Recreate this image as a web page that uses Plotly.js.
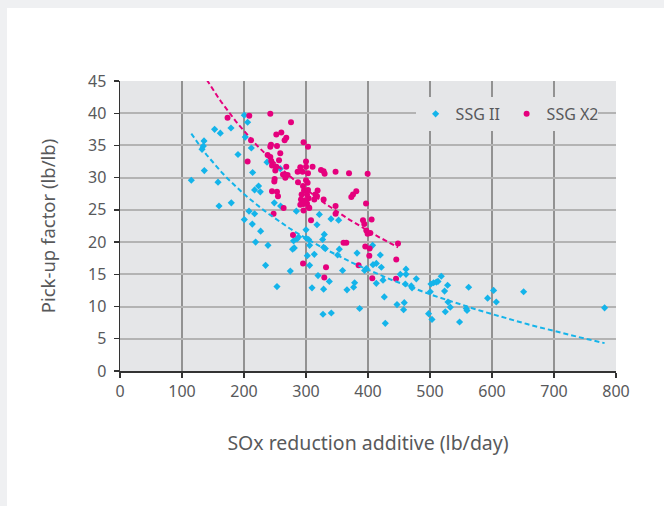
<!DOCTYPE html>
<html>
<head>
<meta charset="utf-8">
<script src="https://cdn.plot.ly/plotly-3.0.1.min.js"></script>
<style>
  html, body { margin: 0; padding: 0; background: #eff0f2; width: 664px; height: 506px; overflow: hidden; }
  #chart { position: absolute; left: 7px; top: 8px; width: 657px; height: 498px; background: #ffffff; }
</style>
</head>
<body>
<div id="chart"></div>
<script>
// ---- Data ----
const ssg2X = [200.5,205.8,152.6,161.8,179.0,202.1,135.5,134.4,132.3,211.8,190.3,237.1,258.5,136.0,213.9,115.0,158.1,223.5,217.1,226.3,
  179.5,159.7,248.9,259.0,208.1,217.1,284.4,321.5,317.7,340.3,352.6,300.0,200.5,213.4,226.8,218.7,238.7,288.1,285.5,300.5,
  304.2,280.0,305.8,281.1,278.4,302.1,305.8,234.8,274.7,253.2,329.5,326.8,313.4,328.4,331.1,353.7,351.0,382.3,407.4,419.8,
  408.1,413.4,421.5,394.5,397.3,359.0,319.4,337.6,378.4,376.8,309.7,328.4,366.1,424.2,413.4,452.1,461.3,461.3,477.9,460.2,
  469.8,471.0,501.6,505.8,510.2,512.9,518.2,528.4,523.5,500.5,562.3,426.3,386.5,327.4,340.8,446.8,458.5,457.4,497.7,503.2,
  529.0,532.7,524.7,547.7,558.5,559.7,427.9,592.9,602.6,606.9,651.0,781.6];
const ssg2Y = [39.7,38.6,37.5,36.9,37.7,36.3,35.7,34.9,34.4,34.6,33.6,32.4,31.4,31.1,30.8,29.6,29.3,28.7,28.1,27.8,
  26.1,25.6,26.1,25.6,24.8,24.4,24.8,24.3,22.7,23.6,23.4,21.9,23.5,22.8,21.7,20.0,19.5,20.8,20.5,20.6,
  20.4,20.2,19.5,19.1,18.9,17.9,16.4,16.4,15.5,13.1,21.2,20.4,18.1,19.2,19.0,18.9,18.0,18.3,19.5,18.0,
  16.5,16.7,16.1,15.6,15.9,15.6,14.8,13.9,13.7,13.0,12.9,12.7,12.6,14.1,13.6,15.0,15.8,15.0,14.3,13.5,
  13.2,12.9,13.5,13.7,13.8,13.9,14.7,13.3,12.4,12.3,13.0,11.5,9.7,8.8,9.0,10.3,10.6,9.5,8.9,8.0,
  10.7,9.9,9.2,7.6,9.7,9.4,7.4,11.3,12.5,10.7,12.3,9.8];

const ssgx2X = [173.5,208.5,242.4,275.8,252.1,260.2,268.2,265.5,211.3,243.5,242.4,253.2,258.5,238.1,242.4,205.8,244.0,245.2,256.5,252.1,
  250.5,268.2,262.9,270.3,249.4,248.9,245.2,253.2,266.6,254.8,263.9,247.7,296.1,303.2,300.0,290.8,300.0,310.6,286.5,294.5,
  303.2,324.2,328.4,330.0,347.7,369.4,399.4,300.0,302.6,287.1,295.2,296.8,303.2,318.7,292.9,301.6,304.2,315.0,317.7,313.4,
  328.4,291.9,298.9,301.6,304.2,375.8,381.1,373.1,290.8,296.1,305.3,296.1,396.8,347.7,347.7,308.1,391.9,394.0,405.8,279.0,
  295.2,360.6,365.0,395.6,402.6,402.1,384.8,332.3,329.5,406.9,445.2,445.6,448.4,397.3,399.4,403.7];
const ssgx2Y = [39.3,39.6,39.9,38.6,36.7,37.0,36.2,35.8,35.8,35.1,34.8,34.9,33.8,33.5,33.2,32.5,32.6,31.9,32.7,31.7,
  31.1,31.7,30.5,30.4,29.8,29.4,27.9,27.8,30.0,27.1,25.3,24.4,35.5,34.8,32.5,31.6,31.7,31.7,30.9,30.9,
  30.7,31.2,31.0,30.6,30.9,30.7,30.6,29.6,29.2,29.3,28.7,28.0,28.1,28.0,27.4,27.4,26.8,27.4,27.1,26.6,
  26.6,26.6,26.5,26.0,25.4,27.4,27.9,27.0,25.8,25.9,25.3,24.9,26.0,25.6,24.4,23.4,23.4,22.8,23.5,21.1,
  16.7,19.9,19.9,19.3,19.0,17.9,16.4,16.1,14.5,14.4,14.3,17.3,19.8,21.8,21.3,21.4];

const seriesNames = ["SSG II", "SSG X2"];
const xTickVals = [0,100,200,300,400,500,600,700,800];
const yTickVals = [0,5,10,15,20,25,30,35,40,45];
const pinkTrendStart = 140;   // trend line is extended back past the first point and clipped at the top

// ---- Logarithmic least-squares trend (y = a + b ln x) computed from the data ----
function logFit(xs, ys) {
  const n = xs.length;
  let sl = 0, sy = 0, sll = 0, sly = 0;
  for (let i = 0; i < n; i++) {
    const l = Math.log(xs[i]);
    sl += l; sy += ys[i]; sll += l * l; sly += l * ys[i];
  }
  const b = (n * sly - sl * sy) / (n * sll - sl * sl);
  const a = (sy - b * sl) / n;
  return {a, b};
}
function trendCurve(fit, x0, x1) {
  const xs = [], ys = [];
  const steps = 80;
  for (let i = 0; i <= steps; i++) {
    const x = x0 + (x1 - x0) * i / steps;
    xs.push(x); ys.push(fit.a + fit.b * Math.log(x));
  }
  return {xs, ys};
}
const fitBlue = logFit(ssg2X, ssg2Y);
const fitPink = logFit(ssgx2X, ssgx2Y);
const tBlue = trendCurve(fitBlue, Math.min(...ssg2X), Math.max(...ssg2X));
const tPink = trendCurve(fitPink, pinkTrendStart, Math.max(...ssgx2X));

const blue = "#14b4ea";
const pink = "#e5007d";
const textCol = "#58595b";
const font = "'Noto Sans', 'Open Sans', sans-serif";

const traces = [
  {x: ssg2X, y: ssg2Y, type: "scatter", mode: "markers", name: seriesNames[0],
   marker: {symbol: "diamond", size: 5.5, color: blue}},
  {x: ssgx2X, y: ssgx2Y, type: "scatter", mode: "markers", name: seriesNames[1],
   marker: {symbol: "circle", size: 6, color: pink}},
  {x: tBlue.xs, y: tBlue.ys, type: "scatter", mode: "lines", showlegend: false, hoverinfo: "skip",
   line: {color: blue, width: 2, dash: "5px,3px"}},
  {x: tPink.xs, y: tPink.ys, type: "scatter", mode: "lines", showlegend: false, hoverinfo: "skip",
   line: {color: pink, width: 2, dash: "5px,3px"}}
];

const layout = {
  width: 657, height: 498,
  margin: {l: 113, r: 48, t: 73, b: 135, pad: 0},
  paper_bgcolor: "#ffffff",
  plot_bgcolor: "#e5e6e8",
  showlegend: true,
  font: {family: font, color: textCol, size: 16},
  xaxis: {
    range: [0, 800], tickvals: xTickVals, ticktext: xTickVals.map(String),
    showgrid: true, gridcolor: "#929292", gridwidth: 1.3,
    showline: true, linecolor: "#333333", linewidth: 1.5,
    ticks: "outside", ticklen: 5, tickcolor: "#333333", tickwidth: 1.3,
    zeroline: false, fixedrange: true,
    tickfont: {family: font, size: 16, color: textCol},
    title: {text: "SOx reduction additive (lb/day)", font: {family: font, size: 19.5, color: textCol}, standoff: 35}
  },
  yaxis: {
    range: [0, 45], tickvals: yTickVals, ticktext: yTickVals.map(String),
    showgrid: true, gridcolor: "#b3b3b3", gridwidth: 2,
    showline: true, linecolor: "#333333", linewidth: 1.5,
    ticks: "outside", ticklen: 5, tickcolor: "#333333", tickwidth: 1.3,
    ticklabelstandoff: 4,
    zeroline: false, fixedrange: true,
    tickfont: {family: font, size: 16, color: textCol},
    title: {text: "Pick-up factor (lb/lb)", font: {family: font, size: 18.5, color: textCol}, standoff: 27}
  },
  legend: {
    orientation: "h", x: 0.596, y: 0.945, xanchor: "left", yanchor: "top",
    bgcolor: "#e5e6e8", borderwidth: 0,
    font: {family: font, size: 16, color: textCol},
    itemsizing: "trace", traceorder: "normal", entrywidth: 46
  }
};

Plotly.newPlot("chart", traces, layout, {displayModeBar: false, staticPlot: true});
</script>
</body>
</html>
